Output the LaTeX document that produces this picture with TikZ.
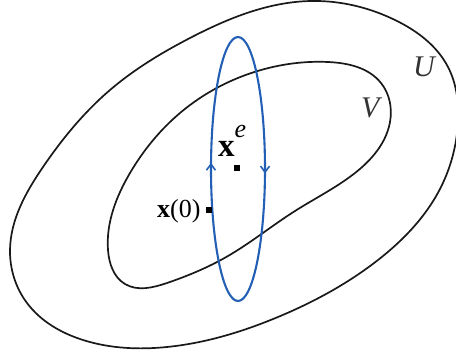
\documentclass[tikz,border=0pt]{standalone}
\usepackage{fontspec}
\setmainfont{Liberation Serif}
\usetikzlibrary{decorations.markings,arrows.meta,hobby}
\definecolor{orbitblue}{RGB}{35,95,180}
\tikzset{
  region/.style={draw=black!90, line width=1.7pt},
  orbit/.style={draw=orbitblue, line width=2.1pt},
  pt/.style={fill=black, inner sep=0pt, minimum size=6pt, draw=none},
  setlabel/.style={inner sep=0pt, anchor=base west, text=black!80, font=\fontsize{30}{30}\selectfont\itshape},
  ptlabel/.style={inner sep=0pt, anchor=base west},
}
\begin{document}
\begin{tikzpicture}[x=1pt,y=-1pt]
\useasboundingbox (0,0) rectangle (456,352);
% outer region U
\draw[region, use Hobby shortcut, closed=true]
 (10,250) .. (43,167) .. (110,90) .. (190,38) .. (311,1) .. (395,20)
 .. (448,67) .. (458,122) .. (441,187) .. (378,260) .. (278,317)
 .. (167,347) .. (83,340) .. (27,303);
% inner region V
\draw[region, use Hobby shortcut, closed=true]
 (108,250) .. (130,173) .. (180,113) .. (261,70) .. (328,62) .. (381,83)
 .. (390,122) .. (355,173) .. (295,211) .. (228,256) .. (167,283)
 .. (125,284);
% periodic orbit
\draw[orbit, postaction={decorate}, decoration={markings,
   mark=at position 0.008 with {\arrow[orbitblue]{Straight Barb[length=6pt,width=9pt,line width=1.6pt]}},
   mark=at position 0.511 with {\arrow[orbitblue]{Straight Barb[length=6pt,width=9pt,line width=1.6pt]}}}]
  (238,169) ellipse [x radius=27, y radius=132];
% points
\node[pt] (xe) at (237,168) {};
\node[pt] (x0) at (209,210) {};
% labels
\node[ptlabel] (xelab) at (218,157) {{\fontsize{33}{33}\selectfont\textbf{x}}\raisebox{19pt}{\fontsize{26}{26}\selectfont\textit{e}}};
\node[ptlabel, font=\fontsize{26}{26}\selectfont] (x0lab) at (157,218) {\textbf{x}(0)};
\node[setlabel] (U) at (413,77) {U};
\node[setlabel] (V) at (361,118) {V};
\end{tikzpicture}
\end{document}
